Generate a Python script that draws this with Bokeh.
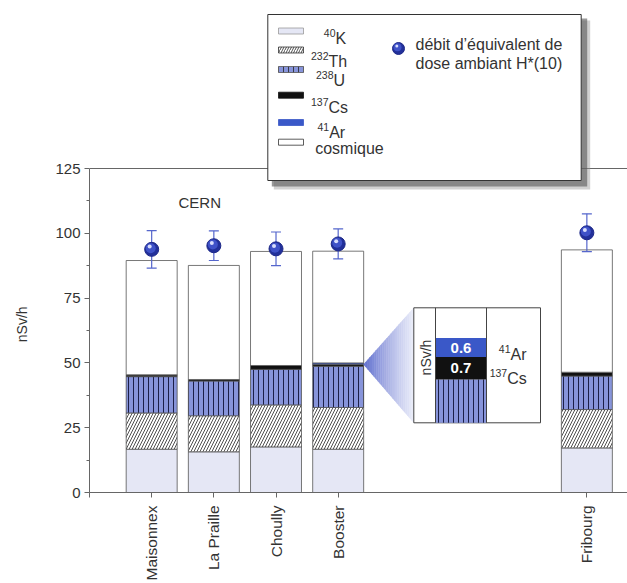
import numpy as np
from math import pi
from bokeh.plotting import figure
from bokeh.models import FixedTicker, ColumnDataSource
from bokeh.core.properties import value
from bokeh.embed import file_html
from bokeh.resources import INLINE

# ---------------- data ----------------
sites = ["Maisonnex", "La Praille", "Choully", "Booster", "Fribourg"]
k40 = [16.7, 15.7, 17.6, 16.7, 17.2]
th232 = [14.0, 13.9, 16.2, 16.1, 14.8]
u238 = [14.0, 13.4, 13.7, 15.9, 12.9]
cs137 = [0.7, 0.6, 1.5, 0.7, 1.5]
ar41 = [0.0, 0.0, 0.0, 0.6, 0.0]
cosmic = [44.1, 44.0, 44.0, 43.1, 47.2]
dose = [93.8, 95.2, 94.0, 95.9, 100.2]
dose_err = [7.2, 5.7, 6.5, 5.8, 7.3]
y_ticks = [0, 25, 50, 75, 100, 125]
leg_sup = ["40", "232", "238", "137", "41", ""]
leg_el = ["K", "Th", "U", "Cs", "Ar", "cosmique"]
dose_label = ["débit d’équivalent de", "dose ambiant H*(10)"]
group_label = "CERN"
unit_label = "nSv/h"

# ---------------- layout ----------------
xpos = [1, 2, 3, 4, 8]
BAR_W = 0.82
FONT = "Liberation Sans"
TXT = "#333333"

W, H = 627, 583
BL, BB = 89, 91
FRAME_L_PX = BL          # image x of x=0
ZERO_Y_PX = H - BB       # image y of y=0
PX_X = 62.17
PX_Y = 2.592
x_end = (W - BL) / PX_X
y_end = (H - BB) / PX_Y


def X(px):
    return (px - FRAME_L_PX) / PX_X


def Y(py):
    return (ZERO_Y_PX - py) / PX_Y


p = figure(width=W, height=H, output_backend="svg", toolbar_location=None,
           x_range=(0, x_end), y_range=(0, y_end),
           min_border_left=BL, min_border_right=0, min_border_top=0,
           min_border_bottom=BB, title=None)
p.outline_line_color = None
p.grid.visible = False
p.background_fill_color = "white"

# top frame line at 125
p.segment(x0=[0], y0=[y_ticks[-1]], x1=[x_end], y1=[y_ticks[-1]],
          line_color="#666666", line_width=1)

# ---------------- stacked bars ----------------
src = ColumnDataSource(dict(x=xpos, k40=k40, th232=th232, u238=u238,
                            cs137=cs137, ar41=ar41, cosmic=cosmic))
U_FILL = "#8794da"
AR_FILL = "#3a58c8"
K_FILL = "#e5e7f5"
p.vbar_stack(["k40", "th232", "u238", "cs137", "ar41", "cosmic"], x="x",
             width=BAR_W, source=src,
             fill_color=[K_FILL, "white", U_FILL, "#111111", AR_FILL, "white"],
             hatch_pattern=[" ", "/", "|", " ", " ", " "],
             hatch_color=["black", "#222222", "#1c1f48", "black", "black", "black"],
             hatch_scale=[6, 6, 5, 6, 6, 6],
             hatch_weight=[1, 0.8, 1, 1, 1, 1],
             line_color="#555555", line_width=0.8)

# ---------------- dose points with error bars ----------------
lo = [d - e for d, e in zip(dose, dose_err)]
hi = [d + e for d, e in zip(dose, dose_err)]
EB = "#5566cc"
p.segment(x0=xpos, y0=lo, x1=xpos, y1=hi, line_color=EB, line_width=1.2)
p.scatter(x=xpos + xpos, y=lo + hi, marker="dash", size=10, line_color=EB,
          line_width=1.2)
p.scatter(x=xpos, y=dose, size=14, fill_color="#22309a", line_color="#1d2888")
dx1, dy1 = -1.0 / PX_X, 1.2 / PX_Y
p.scatter(x=[v + dx1 for v in xpos], y=[v + dy1 for v in dose], size=10,
          fill_color="#3f52c8", line_color=None)
dx2, dy2 = -2.0 / PX_X, 2.8 / PX_Y
p.scatter(x=[v + dx2 for v in xpos], y=[v + dy2 for v in dose], size=4,
          fill_color="#d8defc", line_color=None)

# ---------------- zoom inset for Booster ----------------
bi = sites.index("Booster")
apex_x = xpos[bi] + BAR_W / 2
apex_y = k40[bi] + th232[bi] + u238[bi] + cs137[bi]
box_l, box_r, box_t, box_b = 413.3, 540.0, 307.3, 422.3
base_x = X(box_l)
top_y, bot_y = Y(box_t), Y(box_b)
N = 24
c0 = np.array([88, 104, 204])
c1 = np.array([236, 238, 250])
xs, ys, cols = [], [], []
for i in range(N):
    t0, t1 = i / N, (i + 1) / N
    xa = apex_x + (base_x - apex_x) * t0
    xb = apex_x + (base_x - apex_x) * t1
    ya_t = apex_y + (top_y - apex_y) * t0
    ya_b = apex_y + (bot_y - apex_y) * t0
    yb_t = apex_y + (top_y - apex_y) * t1
    yb_b = apex_y + (bot_y - apex_y) * t1
    xs.append([xa, xb, xb, xa])
    ys.append([ya_t, yb_t, yb_b, ya_b])
    c = c0 + (c1 - c0) * ((t0 + t1) / 2) ** 0.8
    cols.append("#%02x%02x%02x" % tuple(int(v) for v in c))
p.patches(xs=xs, ys=ys, fill_color=cols, line_color=cols, line_width=0.5)

p.quad(left=[X(box_l)], right=[X(box_r)], top=[top_y], bottom=[bot_y],
       fill_color="white", line_color="#444444", line_width=1)
col_l, col_r = 435.0, 486.0
MAG = 32.0  # px per nSv/h in the inset
cs_bot = 379.0
cs_top = cs_bot - cs137[bi] * MAG
ar_top = cs_top - ar41[bi] * MAG
p.quad(left=[X(col_l)], right=[X(col_r)], top=[Y(cs_bot)], bottom=[bot_y],
       fill_color=U_FILL, hatch_pattern="|", hatch_color="#1c1f48",
       hatch_scale=5, hatch_weight=1, line_color=None)
p.quad(left=[X(col_l)], right=[X(col_r)], top=[Y(cs_top)], bottom=[Y(cs_bot)],
       fill_color="#111111", line_color=None)
p.quad(left=[X(col_l)], right=[X(col_r)], top=[Y(ar_top)], bottom=[Y(cs_top)],
       fill_color=AR_FILL, line_color=None)
p.segment(x0=[X(col_l), X(col_r)], y0=[top_y, top_y], x1=[X(col_l), X(col_r)],
          y1=[bot_y, bot_y], line_color="#444444", line_width=1)
cx = X((col_l + col_r) / 2)
p.text(x=[cx, cx], y=[Y((ar_top + cs_top) / 2), Y((cs_top + cs_bot) / 2)],
       text=[f"{ar41[bi]:.1f}", f"{cs137[bi]:.1f}"],
       text_color="white", text_font=value(FONT), text_font_style="bold",
       text_font_size="15px", text_align="center", text_baseline="middle")
p.text(x=[X(425)], y=[Y(357)], text=[unit_label], angle=pi / 2,
       text_color=TXT, text_font=value(FONT), text_font_size="14px",
       text_align="center", text_baseline="middle")
p.text(x=[X(510), X(506.7)], y=[Y(348.5), Y(372.5)],
       text=[leg_sup[4], leg_sup[3]], text_color=TXT, text_font=value(FONT),
       text_font_size="10.5px", text_align="right", text_baseline="alphabetic")
p.text(x=[X(510), X(506.7)], y=[Y(354), Y(378)],
       text=[leg_el[4], leg_el[3]], text_color=TXT, text_font=value(FONT),
       text_font_size="16px", text_align="left", text_baseline="alphabetic")

# ---------------- CERN label ----------------
p.text(x=[X(178)], y=[Y(201.5)], text=[group_label], text_color=TXT,
       text_font=value(FONT), text_font_size="15px", text_baseline="alphabetic")

# ---------------- legend box ----------------
lg_l, lg_r, lg_t, lg_b = 267.3, 580.7, 14.0, 180.0
p.quad(left=[X(lg_l + 6)], right=[X(lg_r + 9)], top=[Y(lg_t + 6)],
       bottom=[Y(lg_b + 9)], fill_color="#999999", fill_alpha=0.45,
       line_color=None)
p.quad(left=[X(lg_l + 4)], right=[X(lg_r + 6)], top=[Y(lg_t + 4)],
       bottom=[Y(lg_b + 6)], fill_color="#555555", fill_alpha=0.6,
       line_color=None)
p.quad(left=[X(lg_l)], right=[X(lg_r)], top=[Y(lg_t)], bottom=[Y(lg_b)],
       fill_color="white", line_color="#333333", line_width=1)

sw_fill = [K_FILL, "white", U_FILL, "#111111", AR_FILL, "white"]
sw_hatch = [" ", "/", "|", " ", " ", " "]
sw_line = ["#999999", "#333333", "#555555", "#111111", AR_FILL, "#333333"]
sw_cy = [30.5, 49.5, 69.0, 94.7, 122.0, 141.7]
for f, h, lc, cy in zip(sw_fill, sw_hatch, sw_line, sw_cy):
    p.quad(left=[X(278)], right=[X(303)], top=[Y(cy - 3)], bottom=[Y(cy + 3)],
           fill_color=f, hatch_pattern=h, hatch_color="#222222",
           hatch_scale=5, hatch_weight=0.8, line_color=lc, line_width=0.8)

el_x = [335, 328, 333, 328, 328.7, 314.7]
el_base = [37.7, 60.7, 80.0, 106.7, 132.3, 148.0]
p.text(x=[X(v) for v in el_x], y=[Y(v) for v in el_base], text=leg_el,
       text_color=TXT, text_font=value(FONT), text_font_size="16px",
       text_align="left", text_baseline="alphabetic")
p.text(x=[X(v) for v in el_x], y=[Y(v - 5.5) for v in el_base], text=leg_sup,
       text_color=TXT, text_font=value(FONT), text_font_size="10.5px",
       text_align="right", text_baseline="alphabetic")

p.scatter(x=[X(398)], y=[Y(48)], size=12, fill_color="#22309a",
          line_color="#1d2888")
p.scatter(x=[X(397)], y=[Y(46.8)], size=8, fill_color="#3f52c8", line_color=None)
p.scatter(x=[X(396.3)], y=[Y(45.5)], size=3, fill_color="#d8defc", line_color=None)
p.text(x=[X(415), X(415)], y=[Y(43.5), Y(62.5)], text=dose_label,
       text_color=TXT, text_font=value(FONT), text_font_size="16px",
       text_align="left", text_baseline="alphabetic")

# ---------------- axes ----------------
p.yaxis.ticker = FixedTicker(ticks=y_ticks,
                             minor_ticks=[t + 12.5 for t in y_ticks[:-1]])
p.yaxis.bounds = (y_ticks[0], y_ticks[-1])
p.yaxis.major_tick_out = 5
p.yaxis.major_tick_in = 0
p.yaxis.minor_tick_out = 3
p.yaxis.minor_tick_in = 0
p.yaxis.major_label_standoff = 4
# the axis title is centred on the whole frame; non-breaking padding after the
# text moves the visible part down to the middle of the 0-125 axis
p.yaxis.axis_label = unit_label + "\u00a0" * 40
p.yaxis.axis_label_standoff = 22
p.yaxis.axis_label_text_font = FONT
p.yaxis.axis_label_text_font_size = "14px"
p.yaxis.axis_label_text_font_style = "normal"
p.yaxis.axis_label_text_color = TXT

p.xaxis.ticker = FixedTicker(ticks=[0] + xpos, minor_ticks=[])
overrides = {0: ""}
overrides.update(dict(zip(xpos, sites)))
p.xaxis.major_label_overrides = overrides
p.xaxis.major_label_orientation = pi / 2
p.xaxis.major_tick_out = 5
p.xaxis.major_tick_in = 0
p.xaxis.major_label_standoff = 8

for ax in (p.xaxis, p.yaxis):
    ax.axis_line_color = "#666666"
    ax.major_tick_line_color = "#666666"
    ax.minor_tick_line_color = "#666666"
    ax.major_label_text_font = FONT
    ax.major_label_text_color = TXT
p.yaxis.major_label_text_font_size = "15px"
p.xaxis.major_label_text_font_size = "15.5px"

open("out.html", "w").write(file_html(p, INLINE))
